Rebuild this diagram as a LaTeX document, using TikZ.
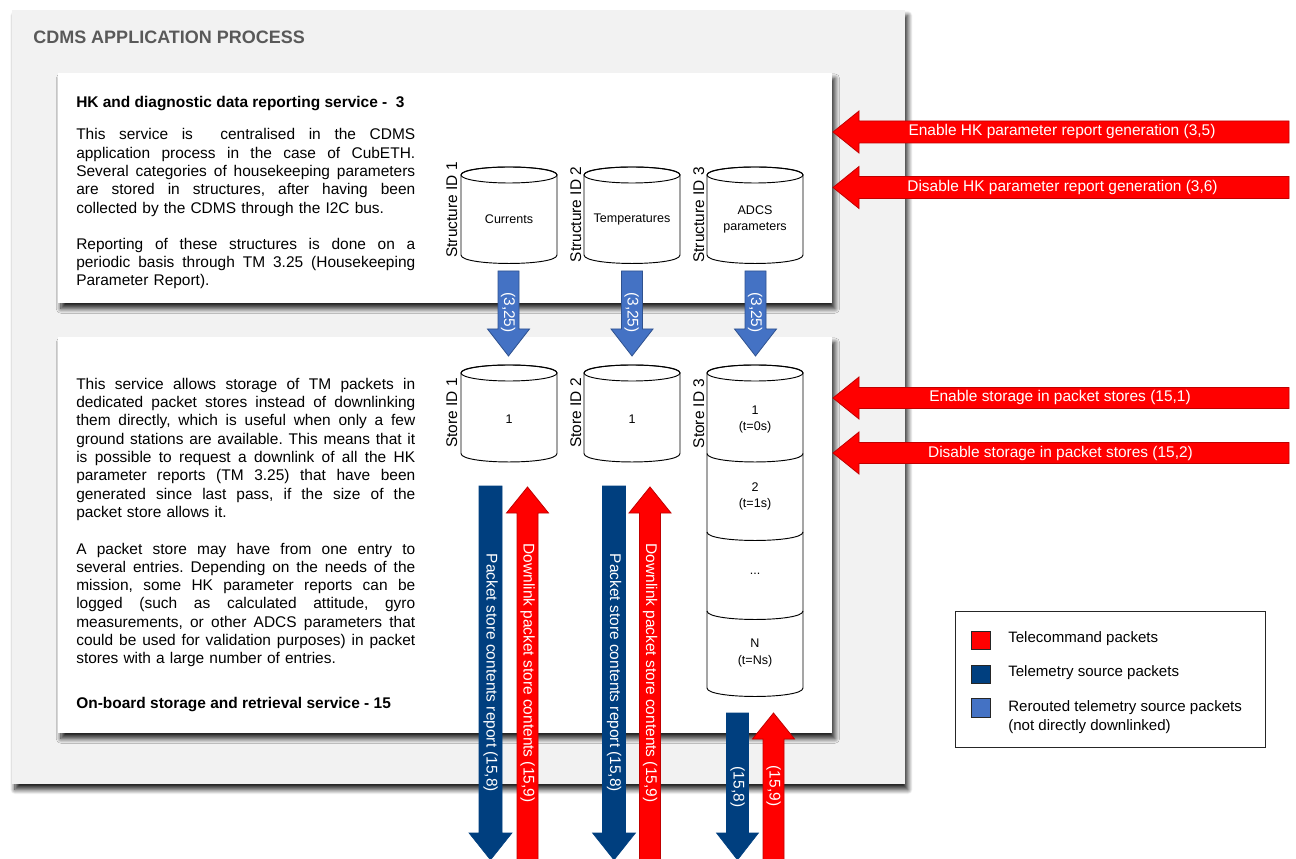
\documentclass[tikz,border=0pt]{standalone}
\usepackage{fontspec}
\setmainfont{Liberation Sans}
\usetikzlibrary{shadows.blur}

\definecolor{panelgray}{HTML}{F2F2F2}
\definecolor{titlegray}{HTML}{595959}
\definecolor{tcred}{HTML}{FF0000}
\definecolor{tcredline}{HTML}{C00000}
\definecolor{tmblue}{HTML}{003F7F}
\definecolor{rrblue}{HTML}{4472C4}
\definecolor{rrblueline}{HTML}{2F528F}

\newcommand\bodyfont{\fontsize{11.6}{13.725}\selectfont\frenchspacing}
\newcommand\titlefont{\fontsize{13.5}{16}\selectfont\bfseries}
\newcommand\cylfont{\fontsize{9.4}{12.5}\selectfont}
\newcommand\keyfont{\fontsize{11.3}{14.5}\selectfont}

\newlength\parwd
\setlength\parwd{254.25pt}
% one fully justified line of a paragraph: word spaces stretch evenly
\newcommand\jl[1]{\makebox[\parwd][s]{\spaceskip=0.278em plus 1fil\xspaceskip=0.278em plus 1fil\relax #1}\\}

% block arrows: centre, start, tip, half shaft, half head, head length, style
\newcommand\ArrDown[7]{%
  \draw[#7] ({#1-#4},#2) -- ({#1+#4},#2) -- ({#1+#4},{#3-#6}) -- ({#1+#5},{#3-#6})
    -- (#1,#3) -- ({#1-#5},{#3-#6}) -- ({#1-#4},{#3-#6}) -- cycle;}
\newcommand\ArrUp[7]{%
  \draw[#7] ({#1-#4},#2) -- ({#1-#4},{#3+#6}) -- ({#1-#5},{#3+#6}) -- (#1,#3)
    -- ({#1+#5},{#3+#6}) -- ({#1+#4},{#3+#6}) -- ({#1+#4},#2) -- cycle;}
\newcommand\ArrLeft[7]{%
  \draw[#7] (#2,#1) -- ({#2+#6},{#1-#5}) -- ({#2+#6},{#1-#4}) -- (#3,{#1-#4})
    -- (#3,{#1+#4}) -- ({#2+#6},{#1+#4}) -- ({#2+#6},{#1+#5}) -- cycle;}

% storage drum: centre x, top y, bottom y
\newcommand\Drum[3]{%
  \filldraw[cyl] ({#1-48},#2) -- ({#1-48},#3)
    .. controls ({#1-48},{#3+11.3}) and ({#1+48},{#3+11.3}) .. ({#1+48},#3)
    -- ({#1+48},#2)
    .. controls ({#1+48},{#2-10.7}) and ({#1-48},{#2-10.7}) .. ({#1-48},#2) -- cycle;
  \draw[cyl, fill=none] (#1,#2) ellipse [x radius=36pt, y radius=6pt];}
% front seam between two entries of a drum
\newcommand\Seam[2]{%
  \draw[cyl, fill=none] ({#1-48},#2)
    .. controls ({#1-48},{#2+11.3}) and ({#1+48},{#2+11.3}) .. ({#1+48},#2);}

\begin{document}
\begin{tikzpicture}[x=0.75pt, y=-0.75pt,
  cyl/.style={draw=black, line width=0.7pt, fill=white},
  tcarrow/.style={fill=tcred, draw=tcredline, line width=0.6pt},
  tmarrow/.style={fill=tmblue, draw=tmblue, line width=0.4pt},
  rrarrow/.style={fill=rrblue, draw=rrblueline, line width=0.6pt},
  body/.style={anchor=base west, inner sep=0pt, text width=254.25pt, font=\bodyfont},
  heading/.style={anchor=base west, inner sep=0pt, font=\bodyfont\bfseries},
  vlabel/.style={rotate=90, anchor=base, inner sep=0pt, font=\bodyfont},
  cyltext/.style={align=center, inner sep=0pt, font=\cylfont},
  downtext/.style={rotate=-90, text=white, inner sep=0pt, font=\bodyfont},
  lefttext/.style={text=white, inner sep=0pt, font=\bodyfont},
  keytext/.style={anchor=west, inner sep=0pt, align=left, font=\keyfont},
  keysq/.style={draw=black!85, line width=0.6pt},
  card/.style={blur shadow={shadow xshift=2.2pt, shadow yshift=-4.2pt,
      shadow blur radius=3.5pt, shadow blur steps=12, shadow opacity=85}},
]
\useasboundingbox (0,0) rectangle (1296,859);
\clip (0,0) rectangle (1296,859);

% application process panel and the two service cards
\fill[panelgray, card] (12,10) rectangle (905,784);
\fill[white, card] (58,73) rectangle (832,303);
\fill[white, card] (58,337) rectangle (832,733);

\node[anchor=base west, inner sep=0pt, font=\titlefont, text=titlegray] (proc) at (33,44)
  {CDMS APPLICATION PROCESS};

% service 3 description
\node[heading] (hkhead) at (76,107.3) {HK and diagnostic data reporting service -\ \ 3};
\node[body] (hkpar1) at (76,140) {%
  \jl{This service is\ \ centralised in the CDMS}
  \jl{application process in the case of CubETH.}
  \jl{Several categories of housekeeping parameters}
  \jl{are stored in structures, after having been}
  collected by the CDMS through the I2C bus.};
\node[body] (hkpar2) at (76,249.3) {%
  \jl{Reporting of these structures is done on a}
  \jl{periodic basis through TM 3.25 (Housekeeping}
  Parameter Report).};

% service 15 description
\node[body] (stpar1) at (76,389.3) {%
  \jl{This service allows storage of TM packets in}
  \jl{dedicated packet stores instead of downlinking}
  \jl{them directly, which is useful when only a few}
  \jl{ground stations are available. This means that it}
  \jl{is possible to request a downlink of all the HK}
  \jl{parameter reports (TM 3.25) that have been}
  \jl{generated since last pass, if the size of the}
  packet store allows it.};
\node[body] (stpar2) at (76,554) {%
  \jl{A packet store may have from one entry to}
  \jl{several entries. Depending on the needs of the}
  \jl{mission, some HK parameter reports can be}
  \jl{logged (such as calculated attitude, gyro}
  \jl{measurements, or other ADCS parameters that}
  \jl{could be used for validation purposes) in packet}
  stores with a large number of entries.};
\node[heading] (sthead) at (76,708) {On-board storage and retrieval service - 15};

% housekeeping structures
\Drum{509}{175}{255}
\Drum{632}{175}{255}
\Drum{755}{175}{255}
\node[cyltext] (cur) at (509,219) {Currents};
\node[cyltext] (tmp) at (632,219) {Temperatures};
\node[cyltext] (adcs) at (755,219.5) {ADCS\\parameters};
\node[vlabel] (sid1) at (457,210) {Structure ID 1};
\node[vlabel] (sid2) at (581,214.5) {Structure ID 2};
\node[vlabel] (sid3) at (704,215) {Structure ID 3};

% packet stores
\Drum{509}{373}{453.5}
\Drum{632}{373}{453.5}
\Drum{755}{373}{688}
\Seam{755}{453.5}
\Seam{755}{532}
\Seam{755}{611}
\node[cyltext] (p1e1) at (509,419) {1};
\node[cyltext] (p2e1) at (632,419) {1};
\node[cyltext] (p3e1) at (755,419.5) {1\\(t=0s)};
\node[cyltext] (p3e2) at (755,496.5) {2\\(t=1s)};
\node[cyltext] (p3e3) at (755,574) {...};
\node[cyltext] (p3eN) at (755,653) {N\\(t=Ns)};
\node[vlabel] (pid1) at (457,413) {Store ID 1};
\node[vlabel] (pid2) at (581,413) {Store ID 2};
\node[vlabel] (pid3) at (704,413.5) {Store ID 3};

% rerouted housekeeping reports (3,25)
\ArrDown{508.5}{271}{356}{10.5}{21}{27}{rrarrow}
\ArrDown{632}{271}{356}{10.5}{21}{27}{rrarrow}
\ArrDown{755.5}{271}{356}{10.5}{21}{27}{rrarrow}
\node[downtext] (r1) at (508,312.5) {(3,25)};
\node[downtext] (r2) at (631.5,312.5) {(3,25)};
\node[downtext] (r3) at (755,312.5) {(3,25)};

% telecommands from the ground
\ArrLeft{132}{833}{1289}{11}{21}{26}{tcarrow}
\ArrLeft{187.5}{833}{1289}{11}{21}{26}{tcarrow}
\ArrLeft{398}{833}{1289}{10.5}{21}{26}{tcarrow}
\ArrLeft{453}{833}{1289}{10.5}{21}{26}{tcarrow}
\node[lefttext] (tc35) at (1062,132) {Enable HK parameter report generation (3,5)};
\node[lefttext] (tc36) at (1062.5,187.5) {Disable HK parameter report generation (3,6)};
\node[lefttext] (tc151) at (1060,398) {Enable storage in packet stores (15,1)};
\node[lefttext] (tc152) at (1060.5,453) {Disable storage in packet stores (15,2)};

% packet store dumps and their requests
\ArrDown{490.5}{486}{860}{11.5}{21.5}{27}{tmarrow}
\ArrUp{527.5}{870}{487}{10.5}{21}{26}{tcarrow}
\ArrDown{614}{486}{860}{11.5}{21.5}{27}{tmarrow}
\ArrUp{650}{870}{487}{10.5}{21}{26}{tcarrow}
\ArrDown{737.5}{713}{860}{11}{21}{27}{tmarrow}
\ArrUp{773.5}{870}{713}{10.5}{21}{26}{tcarrow}
\node[downtext] (d1) at (490.5,673) {Packet store contents report (15,8)};
\node[downtext] (u1) at (527.5,673) {Downlink packet store contents (15,9)};
\node[downtext] (d2) at (614,673) {Packet store contents report (15,8)};
\node[downtext] (u2) at (650,673) {Downlink packet store contents (15,9)};
\node[downtext] (d3) at (737.5,787) {(15,8)};
\node[downtext] (u3) at (773.5,786) {(15,9)};

% key
\draw[draw=black!85, line width=0.7pt] (955,611) rectangle (1265,747);
\filldraw[keysq, fill=tcred] (971,631) rectangle (990,649);
\filldraw[keysq, fill=tmblue] (971,665) rectangle (990,683);
\filldraw[keysq, fill=rrblue] (971,698) rectangle (990,717);
\node[keytext] (ktc) at (1008,639) {Telecommand packets};
\node[keytext] (ktm) at (1008,673) {Telemetry source packets};
\node[keytext] (krr) at (1008,717) {Rerouted telemetry source packets\\(not directly downlinked)};
\end{tikzpicture}
\end{document}
